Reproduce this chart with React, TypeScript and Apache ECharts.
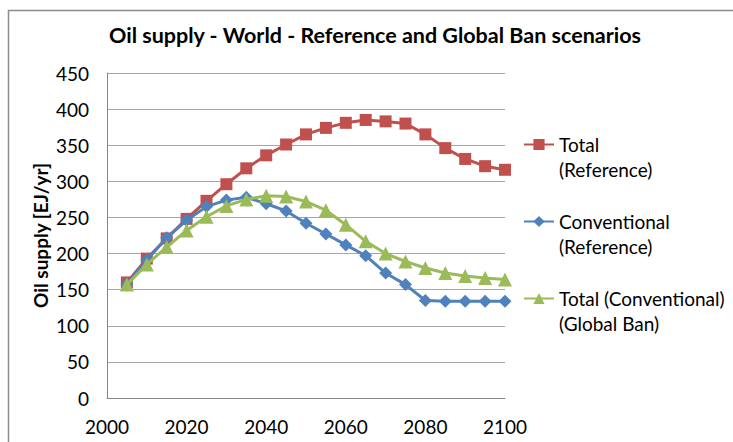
import React, { useEffect, useRef } from "react";
import * as echarts from "echarts";

const years = [2005, 2010, 2015, 2020, 2025, 2030, 2035, 2040, 2045, 2050, 2055, 2060, 2065, 2070, 2075, 2080, 2085, 2090, 2095, 2100];
const totalReference = [160, 193, 221, 248, 273, 296, 318, 336, 351, 365, 374, 381, 385, 383, 380, 365, 346, 331, 321, 316];
const conventionalReference = [158, 191, 222, 246, 265, 274, 278, 269, 259, 242, 227, 212, 197, 173, 157, 135, 134, 134, 134, 134];
const totalGlobalBan = [157, 185, 209, 232, 251, 266, 275, 280, 279, 272, 260, 240, 217, 200, 189, 180, 173, 169, 166, 164];

const seriesNames = ["Total\n(Reference)", "Conventional\n(Reference)", "Total (Conventional)\n(Global Ban)"];
const seriesColors = ["#C0504D", "#4F81BD", "#9BBB59"];
const seriesSymbols = ["rect", "diamond", "triangle"];
const seriesSymbolSizes = [12, 13, 14];

const FONT = "Lato";

export default function App() {
  const ref = useRef<HTMLDivElement>(null);
  useEffect(() => {
    if (!ref.current) return;
    const chart = echarts.init(ref.current, undefined, { renderer: "svg" });
    const datasets = [totalReference, conventionalReference, totalGlobalBan];
    chart.setOption({
      animation: false,
      backgroundColor: "#ffffff",
      title: {
        text: "Oil supply - World - Reference and Global Ban scenarios",
        left: 375,
        textAlign: "center",
        top: 24,
        padding: 0,
        textStyle: { fontFamily: FONT, fontSize: 21.5, fontWeight: "bold", color: "#000" },
      },
      graphic: [
        {
          type: "rect",
          shape: { x: 8.5, y: 10.5, width: 800, height: 500 },
          style: { fill: "none", stroke: "#8c8c8c", lineWidth: 1.5 },
          silent: true,
          z: -1,
        },
      ],
      legend: {
        orient: "vertical",
        left: 518,
        top: 102,
        itemWidth: 30,
        itemHeight: 14,
        itemGap: 2,
        data: seriesNames,
        formatter: (name: string) => "\n" + name,
        textStyle: {
          fontFamily: FONT,
          fontSize: 19,
          color: "#000",
          lineHeight: 25,
        },
      },
      grid: { left: 107, right: 228, top: 73, bottom: 44 },
      xAxis: {
        type: "value",
        min: 2000,
        max: 2100,
        interval: 20,
        axisLine: { lineStyle: { color: "#868686", width: 1 } },
        axisTick: { show: false },
        splitLine: { show: false },
        axisLabel: {
          fontFamily: FONT,
          fontSize: 19,
          color: "#000",
          margin: 19,
          formatter: (v: number) => String(v),
        },
      },
      yAxis: {
        type: "value",
        min: 0,
        max: 450,
        interval: 50,
        name: "Oil supply [EJ/yr]",
        nameLocation: "middle",
        nameRotate: 90,
        nameGap: 57,
        nameMoveOverlap: false,
        nameTextStyle: { fontFamily: FONT, fontSize: 19, fontWeight: "bold", color: "#000" },
        axisLine: { show: true, lineStyle: { color: "#868686", width: 1 } },
        axisTick: { show: false },
        splitLine: { lineStyle: { color: "#a6a6a6", width: 1 } },
        axisLabel: { fontFamily: FONT, fontSize: 19, color: "#000", margin: 18 },
      },
      series: seriesNames.map((name, i) => ({
        name,
        type: "line",
        data: years.map((y, j) => [y, datasets[i][j]]),
        symbol: seriesSymbols[i],
        symbolSize: seriesSymbolSizes[i],
        showAllSymbol: true,
        lineStyle: { color: seriesColors[i], width: 3 },
        itemStyle: { color: seriesColors[i] },
        z: 2 + i,
      })),
    });
    return () => chart.dispose();
  }, []);
  return (
    <div
      ref={ref}
      style={{ position: "fixed", left: 0, top: 0, width: 733, height: 442 }}
    />
  );
}
